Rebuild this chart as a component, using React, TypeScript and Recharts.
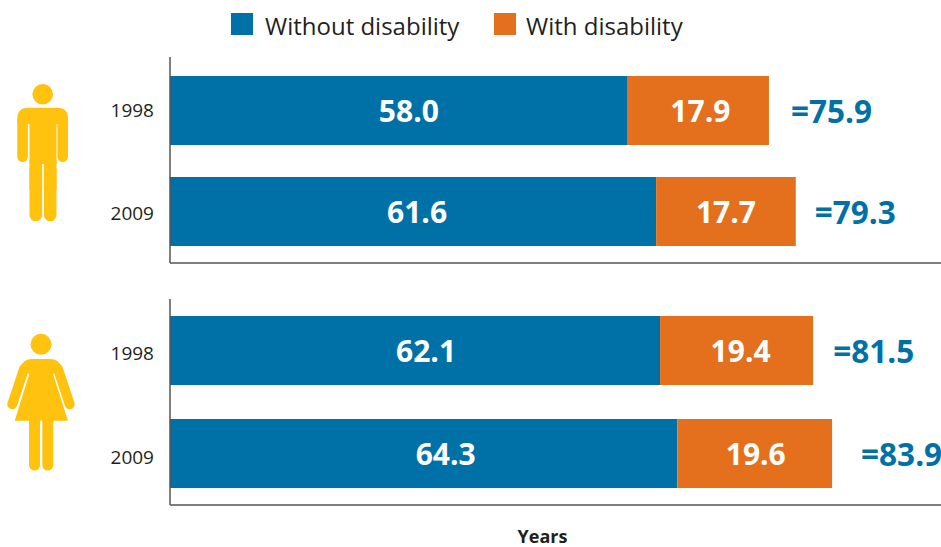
import React from 'react';
import { BarChart, Bar, XAxis, YAxis, LabelList } from 'recharts';

const years = ['1998', '2009'];
const menWithout = [58.0, 61.6];
const menWith = [17.9, 17.7];
const menTotal = [75.9, 79.3];
const womenWithout = [62.1, 64.3];
const womenWith = [19.4, 19.6];
const womenTotal = [81.5, 83.9];

const BLUE = '#0071a7';
const ORANGE = '#e4701e';
const YELLOW = '#ffc20e';
const AXIS = '#555555';
const FONT = '"Open Sans", sans-serif';

const legendItems = [
  { name: 'Without disability', color: BLUE, left: 231, textLeft: 265 },
  { name: 'With disability', color: ORANGE, left: 494, textLeft: 526 },
];

// the labels in the picture are not quite centred in their bars
const menOffsets = { without: [10, 4], with: [2, 0], total: [22, 19], tick: [-1, 1] };
const womenOffsets = { without: [11, 22], with: [4, 1], total: [20, 29], tick: [2, 3] };

function buildRows(without: number[], withDis: number[], total: number[]) {
  return years.map((year, i) => ({ year, without: without[i], with: withDis[i], total: total[i] }));
}

function CenterLabel({ x, y, width, height, index, value, offsets }: any) {
  return (
    <text
      x={x + width / 2 + offsets[index]}
      y={y + height / 2}
      textAnchor="middle"
      dominantBaseline="central"
      fill="#ffffff"
      fontFamily={FONT}
      fontWeight={700}
      fontSize={30}
    >
      {value.toFixed(1)}
    </text>
  );
}

function TotalLabel({ x, y, width, height, index, value, offsets }: any) {
  return (
    <text
      x={x + width + offsets[index]}
      y={y + height / 2}
      textAnchor="start"
      dominantBaseline="central"
      fill={BLUE}
      fontFamily={FONT}
      fontWeight={700}
      fontSize={31.5}
    >
      {`=${value.toFixed(1)}`}
    </text>
  );
}

function YearTick({ x, y, index, payload, offsets }: any) {
  return (
    <text
      x={x}
      y={y + offsets[index]}
      textAnchor="end"
      dominantBaseline="central"
      fill="#231f20"
      fontFamily={FONT}
      fontSize={19}
    >
      {payload.value}
    </text>
  );
}

function Panel({ rows, offsets, height, plotTop, bandPadding, showTitle }: any) {
  return (
    <div style={{ position: 'absolute', left: 0, top: 0 }}>
      <BarChart
        width={941}
        height={height}
        data={rows}
        layout="vertical"
        barSize={69}
        margin={{ top: plotTop, right: 0, bottom: 0, left: 0 }}
      >
        <XAxis
          type="number"
          domain={[0, 97.7]}
          tick={false}
          tickLine={false}
          stroke={AXIS}
          strokeWidth={1.5}
          height={showTitle ? 42 : 1}
          label={
            showTitle
              ? {
                  value: 'Years',
                  position: 'insideBottom',
                  dx: -13,
                  dy: 1,
                  fill: '#231f20',
                  fontFamily: FONT,
                  fontWeight: 700,
                  fontSize: 18,
                }
              : undefined
          }
        />
        <YAxis
          type="category"
          dataKey="year"
          width={170}
          padding={bandPadding}
          tickLine={false}
          tickMargin={10}
          stroke={AXIS}
          strokeWidth={1.5}
          tick={(p: any) => <YearTick {...p} offsets={offsets.tick} />}
        />
        <Bar dataKey="without" stackId="a" fill={BLUE} isAnimationActive={false}>
          <LabelList dataKey="without" content={(p: any) => <CenterLabel {...p} offsets={offsets.without} />} />
        </Bar>
        <Bar dataKey="with" stackId="a" fill={ORANGE} isAnimationActive={false}>
          <LabelList dataKey="with" content={(p: any) => <CenterLabel {...p} offsets={offsets.with} />} />
          <LabelList dataKey="total" content={(p: any) => <TotalLabel {...p} offsets={offsets.total} />} />
        </Bar>
      </BarChart>
    </div>
  );
}

function Legend() {
  return (
    <>
      {legendItems.map((item) => (
        <React.Fragment key={item.name}>
          <div
            style={{ position: 'absolute', left: item.left, top: 13, width: 22, height: 22, background: item.color }}
          />
          <div
            style={{
              position: 'absolute',
              left: item.textLeft,
              top: 9,
              fontFamily: FONT,
              fontSize: 24,
              lineHeight: '34px',
              color: '#231f20',
              whiteSpace: 'nowrap',
            }}
          >
            {item.name}
          </div>
        </React.Fragment>
      ))}
    </>
  );
}

function Icons() {
  return (
    <svg width={90} height={547} style={{ position: 'absolute', left: 0, top: 0 }}>
      {/* man */}
      <circle cx={42.7} cy={94.3} r={10.3} fill={YELLOW} />
      <path
        d="M17.3 124V119Q17.3 107.7 28 107.7H57.5Q68 107.7 68 119V124Z"
        fill={YELLOW}
      />
      <path d="M22.6 120V156.8M62.7 120V156.8" stroke={YELLOW} strokeWidth={10.6} strokeLinecap="round" />
      <rect x={29.5} y={115} width={27} height={49} fill={YELLOW} />
      <rect x={29.5} y={160} width={12.6} height={30} fill={YELLOW} />
      <rect x={43.9} y={160} width={12.6} height={30} fill={YELLOW} />
      <path d="M35.8 170V215M50.2 170V215" stroke={YELLOW} strokeWidth={12.6} strokeLinecap="round" />
      {/* woman */}
      <circle cx={41} cy={344.3} r={10.5} fill={YELLOW} />
      <path d="M24 369L12.3 404.3M58 369L69.7 404.3" stroke={YELLOW} strokeWidth={10} strokeLinecap="round" />
      <path
        d="M20 368Q23 359 32 359H50Q59 359 62 368L53 374L68 420.7H14.7L29.3 374Z"
        fill={YELLOW}
      />
      <path d="M34.5 420V465M47.8 420V465" stroke={YELLOW} strokeWidth={11} strokeLinecap="round" />
    </svg>
  );
}

export default function App() {
  return (
    <div style={{ position: 'absolute', left: 0, top: 0, width: 941, height: 547, background: '#fff', overflow: 'hidden' }}>
      <Legend />
      <Icons />
      <Panel
        rows={buildRows(menWithout, menWith, menTotal)}
        offsets={menOffsets}
        height={264}
        plotTop={57}
        bandPadding={{ top: 3, bottom: 1 }}
      />
      <Panel
        rows={buildRows(womenWithout, womenWith, womenTotal)}
        offsets={womenOffsets}
        height={547}
        plotTop={299}
        bandPadding={{ top: 0, bottom: 0 }}
        showTitle
      />
    </div>
  );
}
